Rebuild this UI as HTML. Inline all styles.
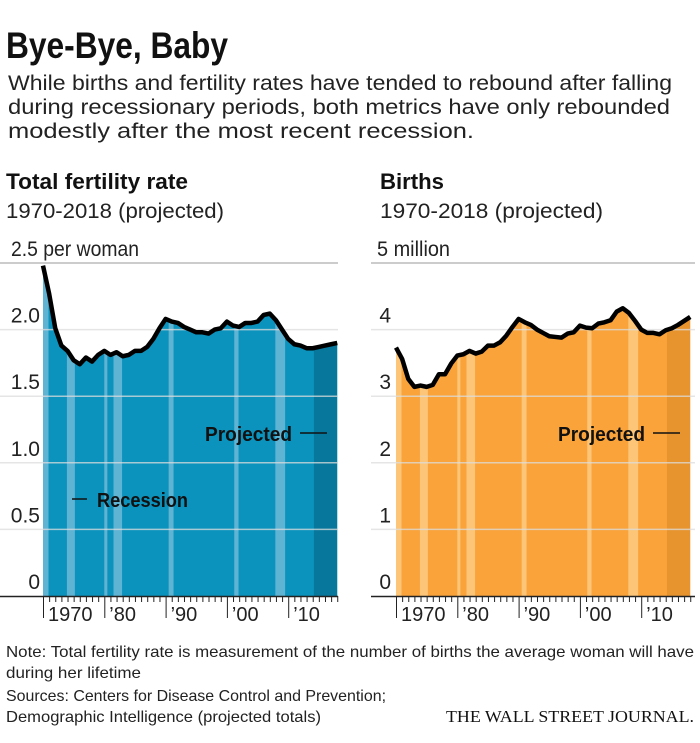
<!DOCTYPE html>
<html><head><meta charset="utf-8"><style>
body{margin:0;background:#fff;}
svg text{font-family:"Liberation Sans",sans-serif;}
</style></head><body>
<svg id="c" width="700" height="738" xmlns="http://www.w3.org/2000/svg">
<text x="6" y="58" font-size="37" font-weight="bold" fill="#111" textLength="222" lengthAdjust="spacingAndGlyphs">Bye-Bye, Baby</text>
<g font-size="21" fill="#222">
<text x="8" y="90" textLength="664" lengthAdjust="spacingAndGlyphs">While births and fertility rates have tended to rebound after falling</text>
<text x="8" y="114" textLength="662" lengthAdjust="spacingAndGlyphs">during recessionary periods, both metrics have only rebounded</text>
<text x="8" y="138" textLength="466" lengthAdjust="spacingAndGlyphs">modestly after the most recent recession.</text>
</g>
<text x="6" y="189" font-size="22" font-weight="bold" fill="#111" textLength="182" lengthAdjust="spacingAndGlyphs">Total fertility rate</text>
<text x="6" y="218" font-size="21" fill="#222" textLength="218" lengthAdjust="spacingAndGlyphs">1970-2018 (projected)</text>
<text x="380" y="189" font-size="22" font-weight="bold" fill="#111" textLength="64" lengthAdjust="spacingAndGlyphs">Births</text>
<text x="380" y="218" font-size="21" fill="#222" textLength="223" lengthAdjust="spacingAndGlyphs">1970-2018 (projected)</text>
<g id="left"></g>
<g id="right"></g>
<g font-size="16" fill="#222">
<text x="6" y="657" textLength="688" lengthAdjust="spacingAndGlyphs">Note: Total fertility rate is measurement of the number of births the average woman will have</text>
<text x="6" y="678" textLength="135" lengthAdjust="spacingAndGlyphs">during her lifetime</text>
<text x="6" y="701" textLength="380" lengthAdjust="spacingAndGlyphs">Sources: Centers for Disease Control and Prevention;</text>
<text x="6" y="722" textLength="315" lengthAdjust="spacingAndGlyphs">Demographic Intelligence (projected totals)</text>
</g>
<text x="694" y="722" text-anchor="end" font-size="17" style="font-family:'Liberation Serif',serif" fill="#111" textLength="248" lengthAdjust="spacingAndGlyphs">THE WALL STREET JOURNAL.</text>
</svg>
<script>
const years = [];
for (let y = 1970; y <= 2018; y++) years.push(y);
const fertility = [2.48,2.27,2.01,1.88,1.84,1.77,1.74,1.79,1.76,1.81,1.84,1.81,1.83,1.80,1.81,1.84,1.84,1.87,1.93,2.01,2.08,2.06,2.05,2.02,2.00,1.98,1.98,1.97,2.00,2.01,2.06,2.03,2.02,2.05,2.05,2.06,2.11,2.12,2.07,2.00,1.93,1.89,1.88,1.86,1.86,1.87,1.88,1.89,1.90];
const births = [3.73,3.56,3.26,3.14,3.16,3.14,3.17,3.33,3.33,3.49,3.61,3.63,3.68,3.64,3.67,3.76,3.76,3.81,3.91,4.04,4.16,4.11,4.07,4.00,3.95,3.90,3.89,3.88,3.94,3.96,4.06,4.03,4.02,4.09,4.11,4.14,4.27,4.32,4.25,4.13,4.00,3.95,3.95,3.93,3.99,4.02,4.07,4.13,4.19];
const recessions = [[1970,1970.9],[1973.9,1975.2],[1980,1980.5],[1981.5,1982.9],[1990.5,1991.3],[2001.2,2001.9],[2007.9,2009.5]];
const projStart = 2014.2;
const fertTicks = ["0","0.5","1.0","1.5","2.0","2.5 per woman"];
const birthTicks = ["0","1","2","3","4","5 million"];
const decadeLabels = ["1970","\u201980","\u201990","\u201900","\u201910"];
const NS = "http://www.w3.org/2000/svg";
function mk(parent, tag, attrs){const e=document.createElementNS(NS,tag);for(const k in attrs)e.setAttribute(k,attrs[k]);parent.appendChild(e);return e;}

function draw(g, cfg){
  const x0=cfg.x0, pxPerYear=6.13, top=263, base=596;
  const xs = y => x0 + (y-1970)*pxPerYear;
  const ys = v => base - v/cfg.max*(base-top);
  const xEnd = xs(2018);
  let d = `M${xs(1970)},${base}`;
  years.forEach((y,i)=>{d+=` L${xs(y)},${ys(cfg.data[i])}`;});
  d += ` L${xEnd},${base} Z`;
  const clipId = cfg.id+"clip";
  const cp = mk(mk(g,'defs',{}),'clipPath',{id:clipId});
  mk(cp,'path',{d:d});
  const area = mk(g,'path',{d:d,fill:cfg.fill});
  
  
  const cg = mk(g,'g',{'clip-path':`url(#${clipId})`});
  recessions.forEach(r=>{
    const rr = mk(cg,'rect',{x:xs(r[0]),y:top-20,width:xs(r[1])-xs(r[0]),height:base-top+20,fill:cfg.rec});
    
    
  });
  const pr = mk(cg,'rect',{x:xs(projStart),y:top-20,width:xEnd-xs(projStart),height:base-top+20,fill:cfg.proj});
  
  
  cfg.ticks.forEach((t,i)=>{
    const v = i*cfg.max/5, y = ys(v);
    if(i>0){
      const l = mk(g,'line',{x1:cfg.gx0,x2:cfg.gx1,y1:y,y2:y,stroke:i===5?'#bbb':'rgba(220,220,220,0.75)', 'stroke-width':1.5});
      
      
    }
    const tx = mk(g,'text',{x:i===5?cfg.lx5:cfg.lx,y:y-7,'font-size':21,fill:'#222','text-anchor':i===5?'start':'end'});
    if(i===5){tx.setAttribute('textLength',cfg.l5);tx.setAttribute('lengthAdjust','spacingAndGlyphs');}
    tx.textContent=t;
    
    
  });
  let ld='';
  years.forEach((y,i)=>{ld+=(i?' L':'M')+xs(y)+','+ys(cfg.data[i]);});
  const line = mk(g,'path',{d:ld,fill:'none',stroke:'#000','stroke-width':4.5,'stroke-linejoin':'round'});
  
  
  const ax = mk(g,'line',{x1:cfg.gx0,x2:cfg.gx1,y1:base+0.5,y2:base+0.5,stroke:'#222','stroke-width':1.5});
  
  
  years.forEach(y=>{
    const major = (y%10===0);
    mk(g,'line',{x1:xs(y)+0.5,x2:xs(y)+0.5,y1:base,y2:base+(major?22:6),stroke:'#222','stroke-width':1});
  });
  decadeLabels.forEach((lab,i)=>{
    const t = mk(g,'text',{x:xs(1970+i*10)+5,y:base+25,'font-size':20,fill:'#222'});
    t.textContent=lab;
    
    
  });
  const pj = mk(g,'text',{x:cfg.x0+162,y:441,'font-size':20,'font-weight':'bold',fill:'#111',textLength:87,lengthAdjust:'spacingAndGlyphs'});
  pj.textContent='Projected';
  
  
  mk(g,'line',{x1:cfg.x0+257,x2:cfg.x0+284,y1:433,y2:433,stroke:'#111','stroke-width':1.5});
  if(cfg.recLabel){
    mk(g,'line',{x1:72,x2:87,y1:499,y2:499,stroke:'#111','stroke-width':1.5});
    const rl = mk(g,'text',{x:97,y:507,'font-size':20,'font-weight':'bold',fill:'#111',textLength:91,lengthAdjust:'spacingAndGlyphs'});
    rl.textContent='Recession';
    
    
  }
}
draw(document.getElementById('left'),{id:'l',x0:43,data:fertility,max:2.5,ticks:fertTicks,fill:'#0b93bd',rec:'#5fb3d3',proj:'#07789c',gx0:0,gx1:338,lx:40,lx5:11,l5:128,recLabel:true});
draw(document.getElementById('right'),{id:'r',x0:396,data:births,max:5,ticks:birthTicks,fill:'#f9a33a',rec:'#fcc578',proj:'#e7942f',gx0:371,gx1:695,lx:391,lx5:377,l5:73,recLabel:false});
</script>
</body></html>
